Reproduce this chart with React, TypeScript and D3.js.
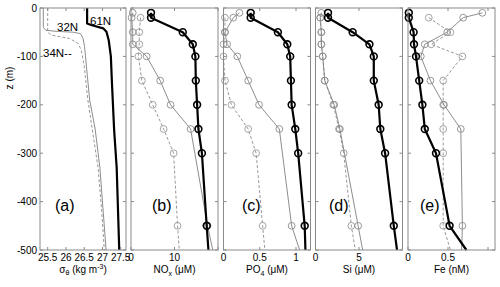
import React from 'react';
import * as d3 from 'd3';

const W = 500;
const H = 287;
const FONT = '"Liberation Sans", Arial, Helvetica, sans-serif';

const depthTicks = [0, -100, -200, -300, -400, -500];

// sampling depths (m); the 500 m entry only closes the line, no marker
const depth61 = [10, 20, 50, 75, 100, 150, 200, 250, 300, 450, 500];
const depth32 = [10, 20, 50, 75, 100, 150, 200, 250, 450, 500];
const depth34 = [20, 50, 75, 100, 150, 200, 250, 300, 450, 500];

// (a) sigma-theta profiles
const sigDepth61 = [0, 32, 35, 42, 49, 66, 100, 155, 252, 330, 500];
const sig61 = [26.58, 26.58, 26.69, 27.02, 27.11, 27.17, 27.23, 27.26, 27.32, 27.39, 27.46];
const sigDepth32 = [0, 40, 46, 48, 50, 53, 63, 80, 120, 190, 250, 330, 420, 500];
const sig32 = [25.38, 25.38, 25.45, 25.7, 26.2, 26.4, 26.47, 26.51, 26.56, 26.65, 26.8, 26.93, 27.02, 27.1];
const sigDepth34 = [0, 50, 56, 63, 73, 87, 120, 190, 250, 330, 420, 500];
const sig34 = [25.5, 25.5, 25.6, 26.1, 26.33, 26.42, 26.5, 26.6, 26.72, 26.88, 26.98, 27.05];

// (b) NOx (uM)
const nox61 = [4.6, 4.6, 11.9, 14.2, 14.8, 14.9, 15.2, 15.5, 16.3, 17.4, 17.8];
const nox32 = [0.4, 0.15, 0.4, 0.4, 3.6, 6.7, 9.1, 13.7, 17.6, 18.8];
const nox34 = [2.2, 1.9, 1.9, 1.7, 2.5, 5.0, 7.5, 9.8, 10.7, 11.1];

// (c) PO4 (uM)
const po61 = [0.375, 0.375, 0.75, 0.88, 0.92, 0.93, 0.94, 0.99, 1.03, 1.12, 1.13];
const po32 = [0.22, 0.135, 0.02, 0.05, 0.19, 0.34, 0.49, 0.77, 0.94, 1.05];
const po34 = [0.02, 0.02, 0.0, 0.0, 0.02, 0.11, 0.34, 0.45, 0.54, 0.57];

// (d) Si (uM)
const si61 = [1.44, 1.44, 4.27, 6.2, 6.7, 6.7, 7.26, 7.45, 8.0, 9.0, 9.37];
const si32 = [0.67, 0.55, 0.67, 0.67, 0.83, 1.06, 2.15, 2.8, 4.9, 5.42];
const si34 = [0.55, 0.67, 0.67, 0.83, 1.06, 2.05, 2.7, 3.24, 4.12, 4.57];

// (e) Fe (nM)
const fe61 = [0.01, 0.01, 0.07, 0.075, 0.1, 0.14, 0.18, 0.21, 0.35, 0.52, 0.73];
const fe32 = [0.93, 0.69, 0.49, 0.21, 0.16, 0.28, 0.45, 0.66, 0.68, 0.67];
const fe34 = [0.26, 0.53, 0.29, 0.68, 0.44, 0.44, 0.44, 0.44, 0.44, 0.53];

const y = d3.scaleLinear().domain([0, -500]).range([8, 250]);

type Series = { depth: number[]; vals: number[]; kind: 'thick' | 'thin' | 'dash'; markers: boolean };

type PanelSpec = {
  left: number;
  width: number;
  domain: [number, number];
  ticks: number[];
  labels: string[];
  tag: string;
  tagX: number;
  xlabel: React.ReactNode;
  series: Series[];
};

const styleOf = {
  thick: { stroke: '#000', width: 2.2, dash: undefined as string | undefined, mk: '#000', mkw: 1.6 },
  thin: { stroke: '#808080', width: 0.9, dash: undefined as string | undefined, mk: '#8c8c8c', mkw: 0.9 },
  dash: { stroke: '#8c8c8c', width: 0.9, dash: '3,2', mk: '#9a9a9a', mkw: 0.9 },
};

function Panel({ p, first }: { p: PanelSpec; first: boolean }) {
  const x = d3.scaleLinear().domain(p.domain).range([p.left, p.left + p.width]);
  const line = d3.line<[number, number]>().x(d => x(d[0])).y(d => y(d[1]));
  const order = ['dash', 'thin', 'thick'];
  const sorted = [...p.series].sort((a, b) => order.indexOf(a.kind) - order.indexOf(b.kind));
  const top = y(0);
  const bot = y(-500);
  const right = p.left + p.width;
  return (
    <g>
      {sorted.map((s, i) => {
        const st = styleOf[s.kind];
        const pts: [number, number][] = s.depth.map((d, j) => [s.vals[j], -d]);
        return (
          <g key={i}>
            <path d={line(pts) || ''} fill="none" stroke={st.stroke} strokeWidth={st.width}
              strokeDasharray={st.dash} strokeLinejoin="round" />
            {s.markers && pts.filter(q => q[1] > -500).map((q, j) => (
              <circle key={j} cx={x(q[0])} cy={y(q[1])} r={3.4} fill="none"
                stroke={st.mk} strokeWidth={st.mkw} />
            ))}
          </g>
        );
      })}
      <rect x={p.left} y={top} width={p.width} height={bot - top} fill="none" stroke="#8a8a8a" strokeWidth={1} />
      {p.ticks.map((t, i) => (
        <g key={i}>
          <line x1={x(t)} x2={x(t)} y1={bot} y2={bot - 3} stroke="#8a8a8a" />
          <line x1={x(t)} x2={x(t)} y1={top} y2={top + 3} stroke="#8a8a8a" />
          {p.labels[i] && (
            <text x={x(t)} y={261} textAnchor="middle" fontSize={10} fontFamily={FONT}>{p.labels[i]}</text>
          )}
        </g>
      ))}
      {depthTicks.map(t => (
        <g key={t}>
          <line x1={p.left} x2={p.left + 3} y1={y(t)} y2={y(t)} stroke="#8a8a8a" />
          <line x1={right} x2={right - 3} y1={y(t)} y2={y(t)} stroke="#8a8a8a" />
          {first && (
            <text x={p.left - 3} y={y(t) + 3.5} textAnchor="end" fontSize={10} fontFamily={FONT}>{t}</text>
          )}
        </g>
      ))}
      <text x={p.tagX} y={211} fontSize={16} fontFamily={FONT}>{p.tag}</text>
      <text x={p.left + p.width / 2} y={273} textAnchor="middle" fontSize={10} fontFamily={FONT}>{p.xlabel}</text>
    </g>
  );
}

const panels: PanelSpec[] = [
  {
    left: 40, width: 86, domain: [25.289, 27.645], ticks: [25.5, 26, 26.5, 27, 27.5],
    labels: ['25.5', '26', '26.5', '27', '27.5'], tag: '(a)', tagX: 55,
    xlabel: (<>σ<tspan fontSize={7} dy={2}>θ</tspan><tspan dy={-2}> (kg m</tspan><tspan fontSize={7} dy={-4}>-3</tspan><tspan dy={4}>)</tspan></>),
    series: [
      { depth: sigDepth34, vals: sig34, kind: 'dash', markers: false },
      { depth: sigDepth32, vals: sig32, kind: 'thin', markers: false },
      { depth: sigDepth61, vals: sig61, kind: 'thick', markers: false },
    ],
  },
  {
    left: 131, width: 87, domain: [0, 20], ticks: [0, 10, 20], labels: ['0', '10', ''], tag: '(b)', tagX: 152,
    xlabel: (<>NO<tspan fontSize={7} dy={3}>x</tspan><tspan dy={-3}> (μM)</tspan></>),
    series: [
      { depth: depth34, vals: nox34, kind: 'dash', markers: true },
      { depth: depth32, vals: nox32, kind: 'thin', markers: true },
      { depth: depth61, vals: nox61, kind: 'thick', markers: true },
    ],
  },
  {
    left: 223.5, width: 87, domain: [0, 1.2], ticks: [0, 0.5, 1], labels: ['0', '0.5', '1'], tag: '(c)', tagX: 242,
    xlabel: (<>PO<tspan fontSize={7} dy={3}>4</tspan><tspan dy={-3}> (μM)</tspan></>),
    series: [
      { depth: depth34, vals: po34, kind: 'dash', markers: true },
      { depth: depth32, vals: po32, kind: 'thin', markers: true },
      { depth: depth61, vals: po61, kind: 'thick', markers: true },
    ],
  },
  {
    left: 315.5, width: 87, domain: [0, 10], ticks: [0, 5, 10], labels: ['0', '5', ''], tag: '(d)', tagX: 329,
    xlabel: (<>Si (μM)</>),
    series: [
      { depth: depth34, vals: si34, kind: 'dash', markers: true },
      { depth: depth32, vals: si32, kind: 'thin', markers: true },
      { depth: depth61, vals: si61, kind: 'thick', markers: true },
    ],
  },
  {
    left: 408, width: 87, domain: [0, 1.0875], ticks: [0, 0.5, 1], labels: ['0', '0.5', ''], tag: '(e)', tagX: 420,
    xlabel: (<>Fe (nM)</>),
    series: [
      { depth: depth34, vals: fe34, kind: 'dash', markers: true },
      { depth: depth32, vals: fe32, kind: 'thin', markers: true },
      { depth: depth61, vals: fe61, kind: 'thick', markers: true },
    ],
  },
];

export default function App() {
  return (
    <svg width={W} height={H} style={{ position: 'absolute', left: 0, top: 0, background: '#fff' }}>
      {panels.map((p, i) => <Panel key={i} p={p} first={i === 0} />)}
      <text x={90} y={25} fontSize={11.5} fontFamily={FONT}>61N</text>
      <text x={57} y={31} fontSize={11.5} fontFamily={FONT}>32N</text>
      <text x={43} y={57} fontSize={11.5} fontFamily={FONT}>34N--</text>
      <text transform="translate(13,78) rotate(-90)" textAnchor="middle" fontSize={10} fontFamily={FONT}>z (m)</text>
    </svg>
  );
}
